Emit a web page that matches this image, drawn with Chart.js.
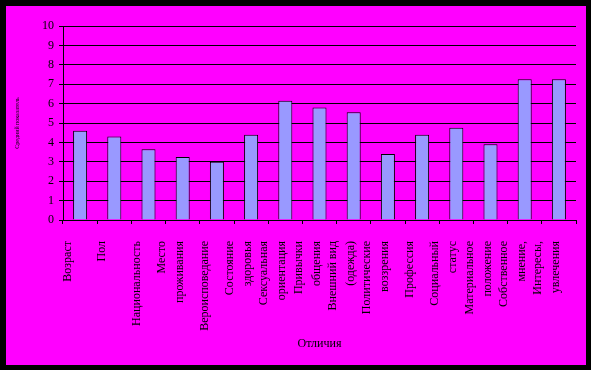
<!DOCTYPE html>
<html>
<head>
<meta charset="utf-8">
<script src="https://cdn.jsdelivr.net/npm/chart.js@4"></script>
<style>
  html, body { margin: 0; padding: 0; background: #000; }
  #box { position: absolute; left: 6px; top: 6px; width: 580px; height: 359px; background: #FF00FF; }
</style>
</head>
<body>
<div id="box"><canvas id="barChart" width="580" height="359"></canvas></div>
<script>
// категории по оси X (многострочные подписи — массивом)
var categories = [
    'Возраст', 'Пол', 'Национальность', ['Место', 'проживания'], 'Вероисповедание',
    ['Состояние', 'здоровья'], ['Сексуальная', 'ориентация'], ['Привычки', 'общения'],
    ['Внешний вид', '(одежда)'], ['Политические', 'воззрения'], 'Профессия',
    ['Социальный', 'статус'], ['Материальное', 'положение'], ['Собственное', 'мнение,'],
    ['Интересы,', 'увлечения']
];
// средние значения
var values = [4.6, 4.3, 3.65, 3.25, 3.0, 4.4, 6.15, 5.8, 5.55, 3.4, 4.4, 4.75, 3.9, 7.25, 7.25];
var yTicks = [0, 1, 2, 3, 4, 5, 6, 7, 8, 9, 10];

var serif = '"Liberation Serif", "Times New Roman", serif';

var ctxBar = document.getElementById('barChart');
var myBarChart = new Chart(ctxBar, {
    type: 'bar',
    data: {
        labels: categories,
        datasets: [
            {
                data: values,
                backgroundColor: '#9999FF',
                borderColor: '#000000',
                borderWidth: 1,
                barPercentage: 0.41,
                categoryPercentage: 1
            }
        ]
    },
    options: {
        responsive: false,
        animation: false,
        layout: { padding: { top: 20, right: 10, left: 0, bottom: 0 } },
        plugins: {
            legend: { display: false },
            tooltip: { enabled: false }
        },
        scales: {
            x: {
                grid: {
                    offset: true,
                    drawOnChartArea: false,
                    color: '#000',
                    tickLength: 4
                },
                border: { color: '#000', width: 1 },
                ticks: {
                    autoSkip: false,
                    minRotation: 90,
                    maxRotation: 90,
                    padding: 17,
                    color: '#000',
                    font: { family: serif, size: 12, lineHeight: 0.75 },
                    labelOffset: -21,
                    //строка высотой 9px: пустые строки центрируют подпись левее столбика
                    callback: function (v, i) {
                        var l = categories[i];
                        return Array.isArray(l) ? [l[0], '', l[1]] : ['', l];
                    }
                },
                title: {
                    display: true,
                    text: 'Отличия',
                    color: '#000',
                    font: { family: serif, size: 12 },
                    padding: { top: 0, bottom: 14 }
                },
                afterFit: function (s) {
                    s.height = 145;
                    s.paddingLeft = 0;
                    s.paddingRight = 0;
                }
            },
            y: {
                min: 0,
                max: 10,
                afterBuildTicks: function (s) {
                    s.ticks = yTicks.map(function (v) { return { value: v }; });
                },
                grid: { color: '#000', lineWidth: 1, tickLength: 4 },
                border: { color: '#000', width: 1 },
                ticks: {
                    padding: 5,
                    color: '#000',
                    font: { family: serif, size: 12 }
                },
                title: {
                    display: true,
                    text: 'Средний показатель',
                    color: '#000',
                    font: { family: serif, size: 6 },
                    padding: 8
                },
                afterFit: function (s) {
                    s.width = 57;
                    s.paddingTop = 0;
                }
            }
        }
    }
});
</script>
</body>
</html>
